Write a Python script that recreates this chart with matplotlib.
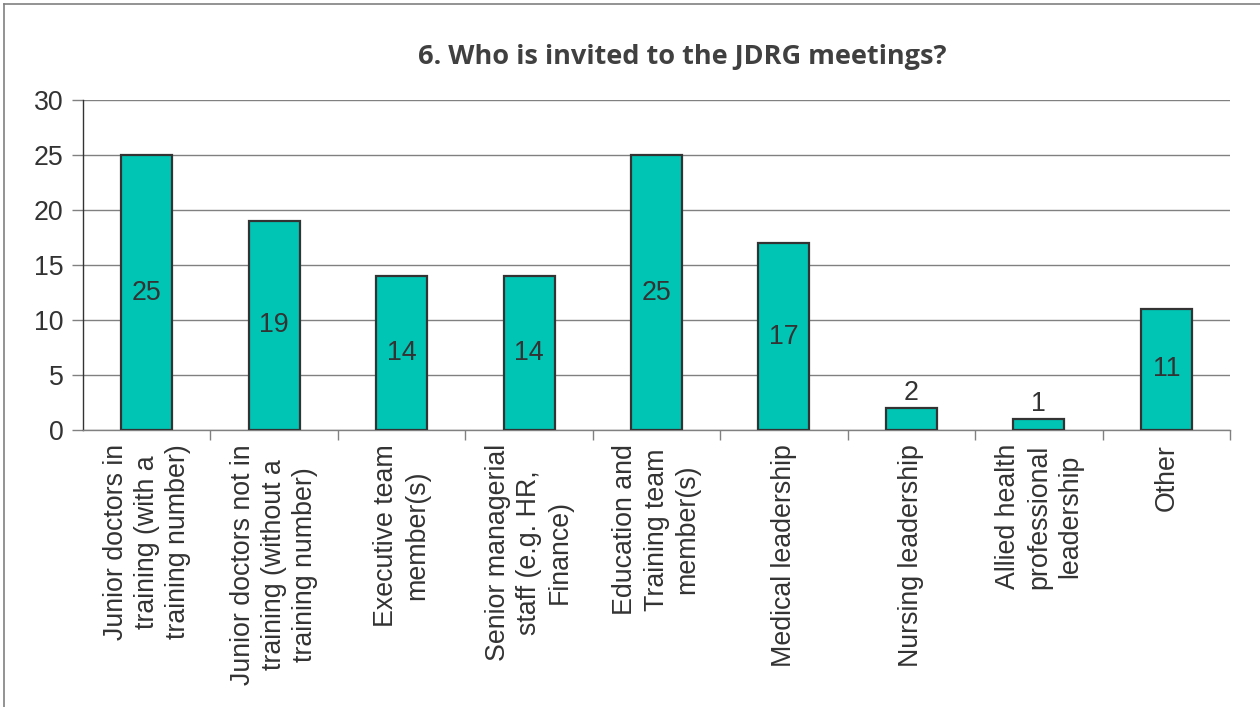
import matplotlib
matplotlib.use("Agg")
import matplotlib.pyplot as plt
from matplotlib.lines import Line2D

categories = [
    "Junior doctors in\ntraining (with a\ntraining number)",
    "Junior doctors not in\ntraining (without a\ntraining number)",
    "Executive team\nmember(s)",
    "Senior managerial\nstaff (e.g. HR,\nFinance)",
    "Education and\nTraining team\nmember(s)",
    "Medical leadership",
    "Nursing leadership",
    "Allied health\nprofessional\nleadership",
    "Other",
]
values = [25, 19, 14, 14, 25, 17, 2, 1, 11]
yticks = [0, 5, 10, 15, 20, 25, 30]
title = "6. Who is invited to the JDRG meetings?"

W, H = 1260, 707
fig = plt.figure(figsize=(W / 100, H / 100), dpi=100)
fig.patch.set_facecolor("white")

# outer frame (top and left lines)
fig.add_artist(Line2D([4 / W, 4 / W], [0, 1 - 4 / H], color="#808080", lw=1.2, transform=fig.transFigure))
fig.add_artist(Line2D([4 / W, 1], [1 - 4 / H, 1 - 4 / H], color="#808080", lw=1.2, transform=fig.transFigure))

ax = fig.add_axes([83 / W, 1 - 430 / H, (1230 - 83) / W, (430 - 100) / H])
x = list(range(len(categories)))
ax.bar(x, values, width=0.4, color="#00C4B4", edgecolor="#333333", linewidth=1.6, zorder=3)

ax.set_xlim(-0.5, len(categories) - 0.5)
ax.set_ylim(0, 30)
ax.set_yticks(yticks)
ax.set_yticklabels([str(t) for t in yticks], fontsize=19.3, color="#333333", family="Liberation Sans")
ax.yaxis.grid(True, color="#808080", lw=1.0, zorder=0)
ax.set_axisbelow(True)

ax.set_xticks(x)
ax.set_xticklabels(categories, rotation=90, ha="center", va="top", fontsize=19.3,
                   color="#333333", family="Liberation Sans", linespacing=1.25)
ax.tick_params(axis="x", length=0, pad=10)
ax.set_xticks([i - 0.5 for i in range(1, len(categories) + 1)], minor=True)
ax.tick_params(axis="x", which="minor", length=7, color="#808080", width=1.0, direction="out")
ax.tick_params(axis="y", length=8, color="#808080", width=1.0, direction="out", pad=6)

for s in ["top", "right"]:
    ax.spines[s].set_visible(False)
ax.spines["left"].set_color("#333333")
ax.spines["left"].set_linewidth(1.0)
ax.spines["bottom"].set_color("#808080")
ax.spines["bottom"].set_linewidth(1.0)

for xi, v in zip(x, values):
    if v >= 3:
        ax.text(xi, v / 2, str(v), ha="center", va="center", fontsize=19.3,
                color="#333333", family="Liberation Sans", zorder=4)
    else:
        ax.text(xi, v + 0.2, str(v), ha="center", va="bottom", fontsize=19.3,
                color="#333333", family="Liberation Sans", zorder=4)

fig.text(682 / W, 1 - 57 / H, title, ha="center", va="center", fontsize=19.5,
         fontweight="bold", color="#404040", family="Open Sans")

fig.savefig("out.png", dpi=100, facecolor="white")
